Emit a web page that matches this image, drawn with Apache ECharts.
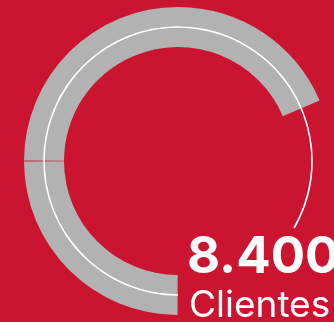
<!DOCTYPE html>
<html>
<head>
<meta charset="utf-8">
<script src="https://cdn.jsdelivr.net/npm/echarts@6/dist/echarts.min.js"></script>
<style>
  html, body { margin: 0; padding: 0; background: #CB1430; }
  #chart { width: 334px; height: 322px; }
</style>
</head>
<body>
<div id="chart"></div>
<script>
// Data (degrees of arc)
const ringSegments = [90, 157];      // grey ring: bottom->left, left->upper right
const ringRemainder = [113];         // empty part of the ring
const lineArc = [300];               // thin white circle line
const lineRemainder = [60];
const valueLabel = '8.400';
const captionLabel = 'Clientes';

const chart = echarts.init(document.getElementById('chart'), null, { renderer: 'canvas' });

const ringData = ringSegments.map(v => ({ value: v, itemStyle: { color: '#B2B2B2' } }))
  .concat(ringRemainder.map(v => ({ value: v, itemStyle: { color: 'rgba(0,0,0,0)' } })));
const lineData = lineArc.map(v => ({ value: v, itemStyle: { color: '#FFFFFF' } }))
  .concat(lineRemainder.map(v => ({ value: v, itemStyle: { color: 'rgba(0,0,0,0)' } })));

chart.setOption({
  backgroundColor: '#CB1430',
  animation: false,
  series: [
    {
      type: 'pie',
      center: [178, 161],
      radius: [114, 154],
      startAngle: 270,
      clockwise: true,
      padAngle: 0.35,
      silent: true,
      label: { show: false },
      labelLine: { show: false },
      emphasis: { disabled: true },
      data: ringData
    },
    {
      type: 'pie',
      center: [178, 161],
      radius: [133.2, 134.8],
      startAngle: 270,
      clockwise: true,
      silent: true,
      z: 3,
      label: { show: false },
      labelLine: { show: false },
      emphasis: { disabled: true },
      data: lineData
    }
  ],
  graphic: [
    {
      type: 'text',
      x: 187,
      y: 258,
      z: 10,
      style: {
        text: valueLabel,
        fill: '#FFFFFF',
        font: 'bold 51px Inter, sans-serif',
        verticalAlign: 'middle'
      }
    },
    {
      type: 'text',
      x: 189,
      y: 306,
      z: 10,
      style: {
        text: captionLabel,
        fill: '#FFFFFF',
        font: '37px Inter, sans-serif',
        verticalAlign: 'middle'
      }
    }
  ]
});
</script>
</body>
</html>
